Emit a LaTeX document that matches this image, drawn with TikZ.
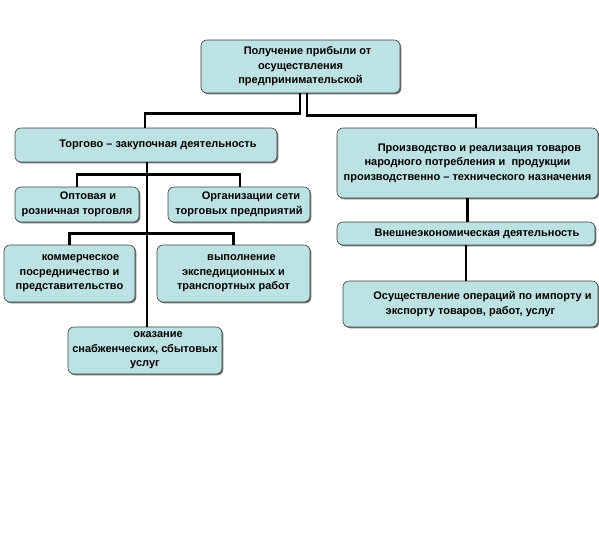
\documentclass[tikz,border=0pt]{standalone}
\usepackage{fontspec}
\setmainfont{Liberation Sans}
\usepackage{tikz}
\usetikzlibrary{positioning,calc,shadows}

\definecolor{boxfill}{HTML}{BDE2E4}

\begin{document}
\begin{tikzpicture}[x=1pt, y=-1pt,
        box/.style={rectangle, draw=black!75, line width=0.6pt, rounded corners=6pt, fill=boxfill, inner sep=1pt, align=center, font=\fontsize{11}{14.5}\selectfont\bfseries, drop shadow={shadow xshift=1.3pt, shadow yshift=-1.3pt, fill=black!55, opacity=1}},
        link/.style={draw=black, line width=2.6pt},
      ]
      \useasboundingbox (0,0) rectangle (599,550);
      % top level
      \node [box, minimum width=199, minimum height=53] (top) at (300.5,66.5) {\hspace*{14pt}Получение прибыли от\\осуществления\\предпринимательской};
      % left branch
      \node [box, minimum width=262, minimum height=34] (trade) at (146,145) {\hspace*{24pt}Торгово -- закупочная деятельность};
      \node [box, minimum width=124, minimum height=35] (whole) at (77,204.5) {\hspace*{22pt}Оптовая и\\розничная торговля};
      \node [box, minimum width=142, minimum height=35] (net) at (239,204.5) {\hspace*{24pt}Организации сети\\торговых предприятий};
      \node [box, minimum width=131, minimum height=57] (comm) at (69.5,273.5) {\hspace*{22pt}коммерческое\\посредничество и\\представительство};
      \node [box, minimum width=153, minimum height=57] (fwd) at (233.5,273.5) {\hspace*{16pt}выполнение\\экспедиционных и\\транспортных работ};
      \node [box, minimum width=154, minimum height=47] (serv) at (145,350.5) {\hspace*{26pt}оказание\\снабженческих, сбытовых\\услуг};
      % right branch
      \node [box, minimum width=261, minimum height=70] (prod) at (467.5,163) {\hspace*{24pt}Производство и реализация товаров\\народного потребления и~ продукции\\производственно -- технического назначения};
      \node [box, minimum width=258, minimum height=23] (ext) at (466,233.5) {\hspace*{22pt}Внешнеэкономическая деятельность};
      \node [box, minimum width=255, minimum height=46] (imp) at (470.5,304) {\hspace*{24pt}Осуществление операций по импорту и\\экспорту товаров, работ, услуг};
      % connectors
      \draw [link] ([xshift=-0.5pt]top.south) -- ++(0,20) -| ([xshift=-1pt]trade.north);
      \draw [link] ([xshift=6.5pt]top.south) -- ++(0,22) -| ([xshift=8.5pt]prod.north);
      \draw [link] ([xshift=1pt]trade.south) -- ([xshift=1pt]trade.south |- serv.north);
      \draw [link] (whole.north) -- ++(0,-12) -| ([xshift=1pt]net.north);
      \draw [link] (comm.north) -- ++(0,-11) -| (fwd.north);
      \draw [link] (prod.south) -- (prod.south |- ext.north);
      \draw [link] (ext.south) -- (ext.south |- imp.north);
    \end{tikzpicture}
\end{document}
